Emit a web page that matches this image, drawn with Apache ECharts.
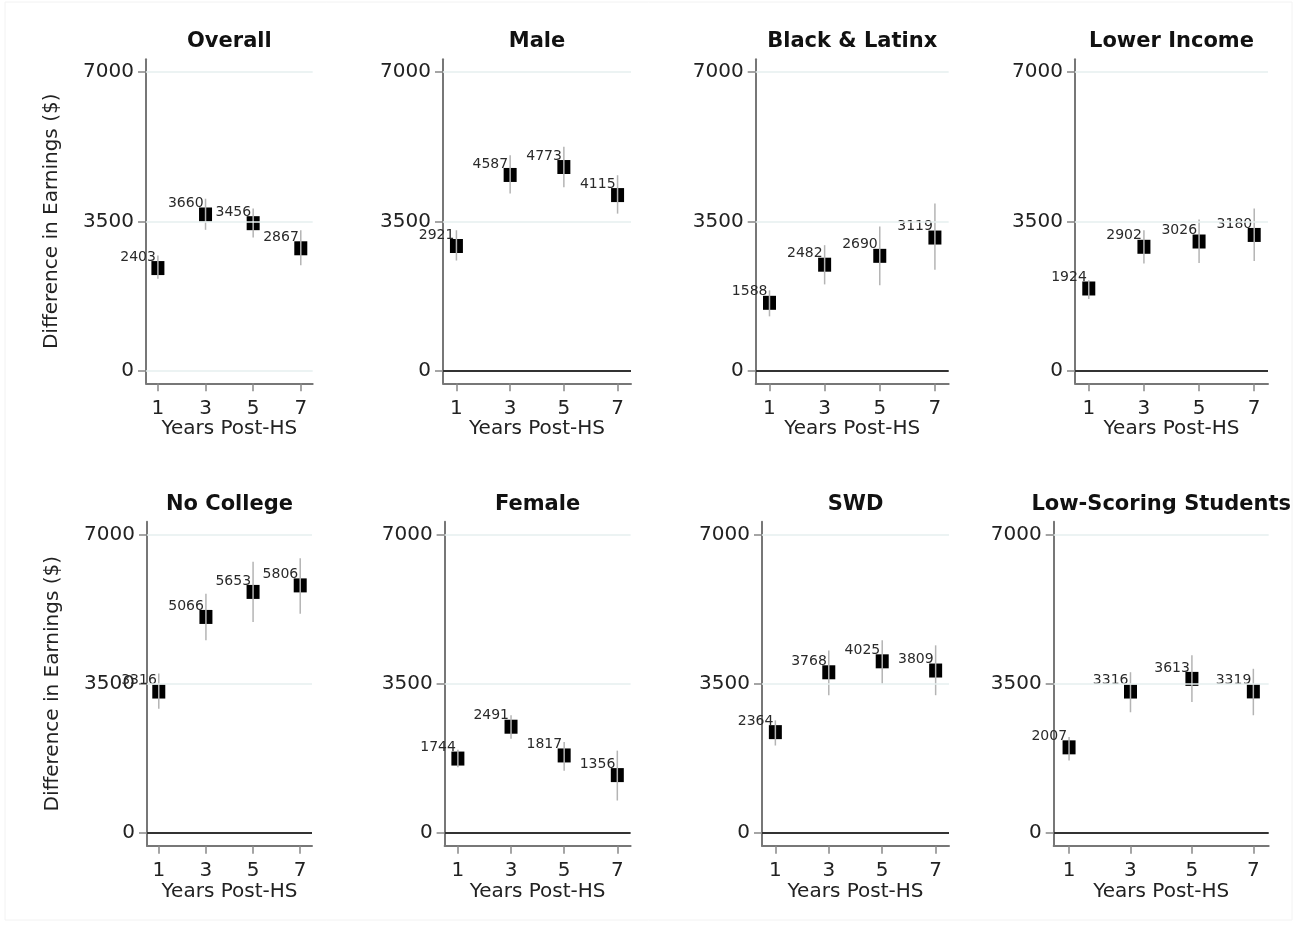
<!DOCTYPE html>
<html>
<head>
<meta charset="utf-8">
<script src="https://cdn.jsdelivr.net/npm/echarts@6/dist/echarts.min.js"></script>
<style>
html,body{margin:0;padding:0;background:#fff;}
#chart{width:1295px;height:925px;}
</style>
</head>
<body>
<div id="chart"></div>
<script>
// ---- data ----
const years = [1, 3, 5, 7];
const xTicks = [1, 3, 5, 7];
const yTicks = [0, 3500, 7000];
const panelTitles = ['Overall', 'Male', 'Black & Latinx', 'Lower Income',
                     'No College', 'Female', 'SWD', 'Low-Scoring Students'];
const yAxisTitle = 'Difference in Earnings ($)';
const xAxisTitle = 'Years Post-HS';

const overallEst = [2403, 3660, 3456, 2867];
const overallLo  = [2150, 3300, 3120, 2470];
const overallHi  = [2700, 4030, 3800, 3290];

const maleEst = [2921, 4587, 4773, 4115];
const maleLo  = [2580, 4150, 4300, 3680];
const maleHi  = [3290, 5050, 5250, 4580];

const blackLatinxEst = [1588, 2482, 2690, 3119];
const blackLatinxLo  = [1270, 2020, 2000, 2365];
const blackLatinxHi  = [1880, 2940, 3380, 3915];

const lowerIncomeEst = [1924, 2902, 3026, 3180];
const lowerIncomeLo  = [1680, 2510, 2520, 2570];
const lowerIncomeHi  = [2120, 3290, 3540, 3800];

const noCollegeEst = [3316, 5066, 5653, 5806];
const noCollegeLo  = [2910, 4520, 4950, 5140];
const noCollegeHi  = [3740, 5610, 6360, 6440];

const femaleEst = [1744, 2491, 1817, 1356];
const femaleLo  = [1540, 2210, 1460, 760];
const femaleHi  = [1950, 2760, 2130, 1930];

const swdEst = [2364, 3768, 4025, 3809];
const swdLo  = [2050, 3230, 3500, 3230];
const swdHi  = [2640, 4280, 4520, 4400];

const lowScoringEst = [2007, 3316, 3613, 3319];
const lowScoringLo  = [1700, 2830, 3070, 2760];
const lowScoringHi  = [2250, 3770, 4170, 3850];

const panelEst = [overallEst, maleEst, blackLatinxEst, lowerIncomeEst, noCollegeEst, femaleEst, swdEst, lowScoringEst];
const panelLo  = [overallLo, maleLo, blackLatinxLo, lowerIncomeLo, noCollegeLo, femaleLo, swdLo, lowScoringLo];
const panelHi  = [overallHi, maleHi, blackLatinxHi, lowerIncomeHi, noCollegeHi, femaleHi, swdHi, lowScoringHi];

// ---- layout ----
const gridBoxes = [
  [146, 59.3, 166.7], [443, 59.3, 188], [755.7, 59.3, 193], [1075, 59.3, 193],
  [147, 521.7, 165], [444.6, 521.7, 186], [762, 521.7, 187], [1053.7, 521.7, 215]
];
const gridH = 324;
const FONT = 'DejaVu Sans';

const grids = [], xAxes = [], yAxes = [], series = [], titles = [];

gridBoxes.forEach((b, i) => {
  grids.push({left: b[0], top: b[1], width: b[2], height: gridH, outerBoundsMode: 'none', containLabel: false});
  titles.push({
    text: panelTitles[i],
    left: b[0] + b[2] / 2,
    top: b[1] - 28,
    textAlign: 'center',
    padding: 0,
    textStyle: {fontFamily: FONT, fontSize: 21, fontWeight: 'bold', color: '#111'}
  });
  xAxes.push({
    gridIndex: i, type: 'value', min: 0.5, max: 7.5,
    name: xAxisTitle, nameLocation: 'middle', nameGap: 35,
    nameTextStyle: {fontFamily: FONT, fontSize: 20, color: '#222'},
    axisLine: {onZero: false, lineStyle: {color: '#777', width: 2}},
    axisTick: {show: true, length: 8, customValues: xTicks, lineStyle: {color: '#888', width: 1.5}},
    axisLabel: {customValues: xTicks, margin: 15, fontFamily: FONT, fontSize: 20, color: '#222',
                formatter: v => String(v)},
    splitLine: {show: false}
  });
  const showYName = (i % 4 === 0);
  yAxes.push({
    gridIndex: i, type: 'value', min: -300, max: 7300,
    name: showYName ? yAxisTitle : '', nameLocation: 'middle', nameGap: 84,
    nameTextStyle: {fontFamily: FONT, fontSize: 20, color: '#222'},
    axisLine: {show: true, onZero: false, lineStyle: {color: '#777', width: 2}},
    axisTick: {show: true, length: 8, customValues: yTicks, lineStyle: {color: '#888', width: 1.5}},
    axisLabel: {customValues: yTicks, margin: 12, fontFamily: FONT, fontSize: 20, color: '#222',
                formatter: v => String(v)},
    splitLine: {show: false}
  });

  const refLines = yTicks.map(v => ({yAxis: v, lineStyle: {color: '#e6efef', width: 1.5, type: 'solid'}}));
  if (i !== 0) refLines.push({yAxis: 0, lineStyle: {color: '#333', width: 2, type: 'solid'}});
  series.push({
    type: 'scatter', xAxisIndex: i, yAxisIndex: i, data: [], z: 1, silent: true,
    markLine: {silent: true, symbol: 'none', label: {show: false}, animation: false, data: refLines}
  });

  const est = panelEst[i], lo = panelLo[i], hi = panelHi[i];
  series.push({
    type: 'scatter', xAxisIndex: i, yAxisIndex: i, z: 3,
    symbol: 'rect', symbolSize: [13, 14],
    itemStyle: {color: '#000', opacity: 1},
    data: years.map((y, k) => [y, est[k]]),
    label: {
      show: true, position: [4.5, -4], align: 'right', verticalAlign: 'middle',
      fontFamily: FONT, fontSize: 14, color: '#2a2a2a',
      formatter: p => String(p.value[1])
    },
    animation: false
  });
  series.push({
    type: 'custom', xAxisIndex: i, yAxisIndex: i, z: 4, silent: true,
    data: years.map((y, k) => [y, lo[k], hi[k]]),
    renderItem: (params, api) => {
      const p1 = api.coord([api.value(0), api.value(1)]);
      const p2 = api.coord([api.value(0), api.value(2)]);
      return {type: 'line', shape: {x1: p1[0], y1: p1[1], x2: p2[0], y2: p2[1]},
              style: {stroke: '#b4b4b4', lineWidth: 1.5}};
    },
    animation: false
  });
});

const chart = echarts.init(document.getElementById('chart'), null, {renderer: 'canvas'});
chart.setOption({
  backgroundColor: '#fff',
  animation: false,
  title: titles,
  grid: grids,
  xAxis: xAxes,
  yAxis: yAxes,
  series: series,
  graphic: [{
    type: 'rect', shape: {x: 5, y: 2, width: 1287, height: 918},
    style: {fill: 'none', stroke: '#f2f2f2', lineWidth: 1}, silent: true, z: -10
  }]
});
</script>
</body>
</html>
